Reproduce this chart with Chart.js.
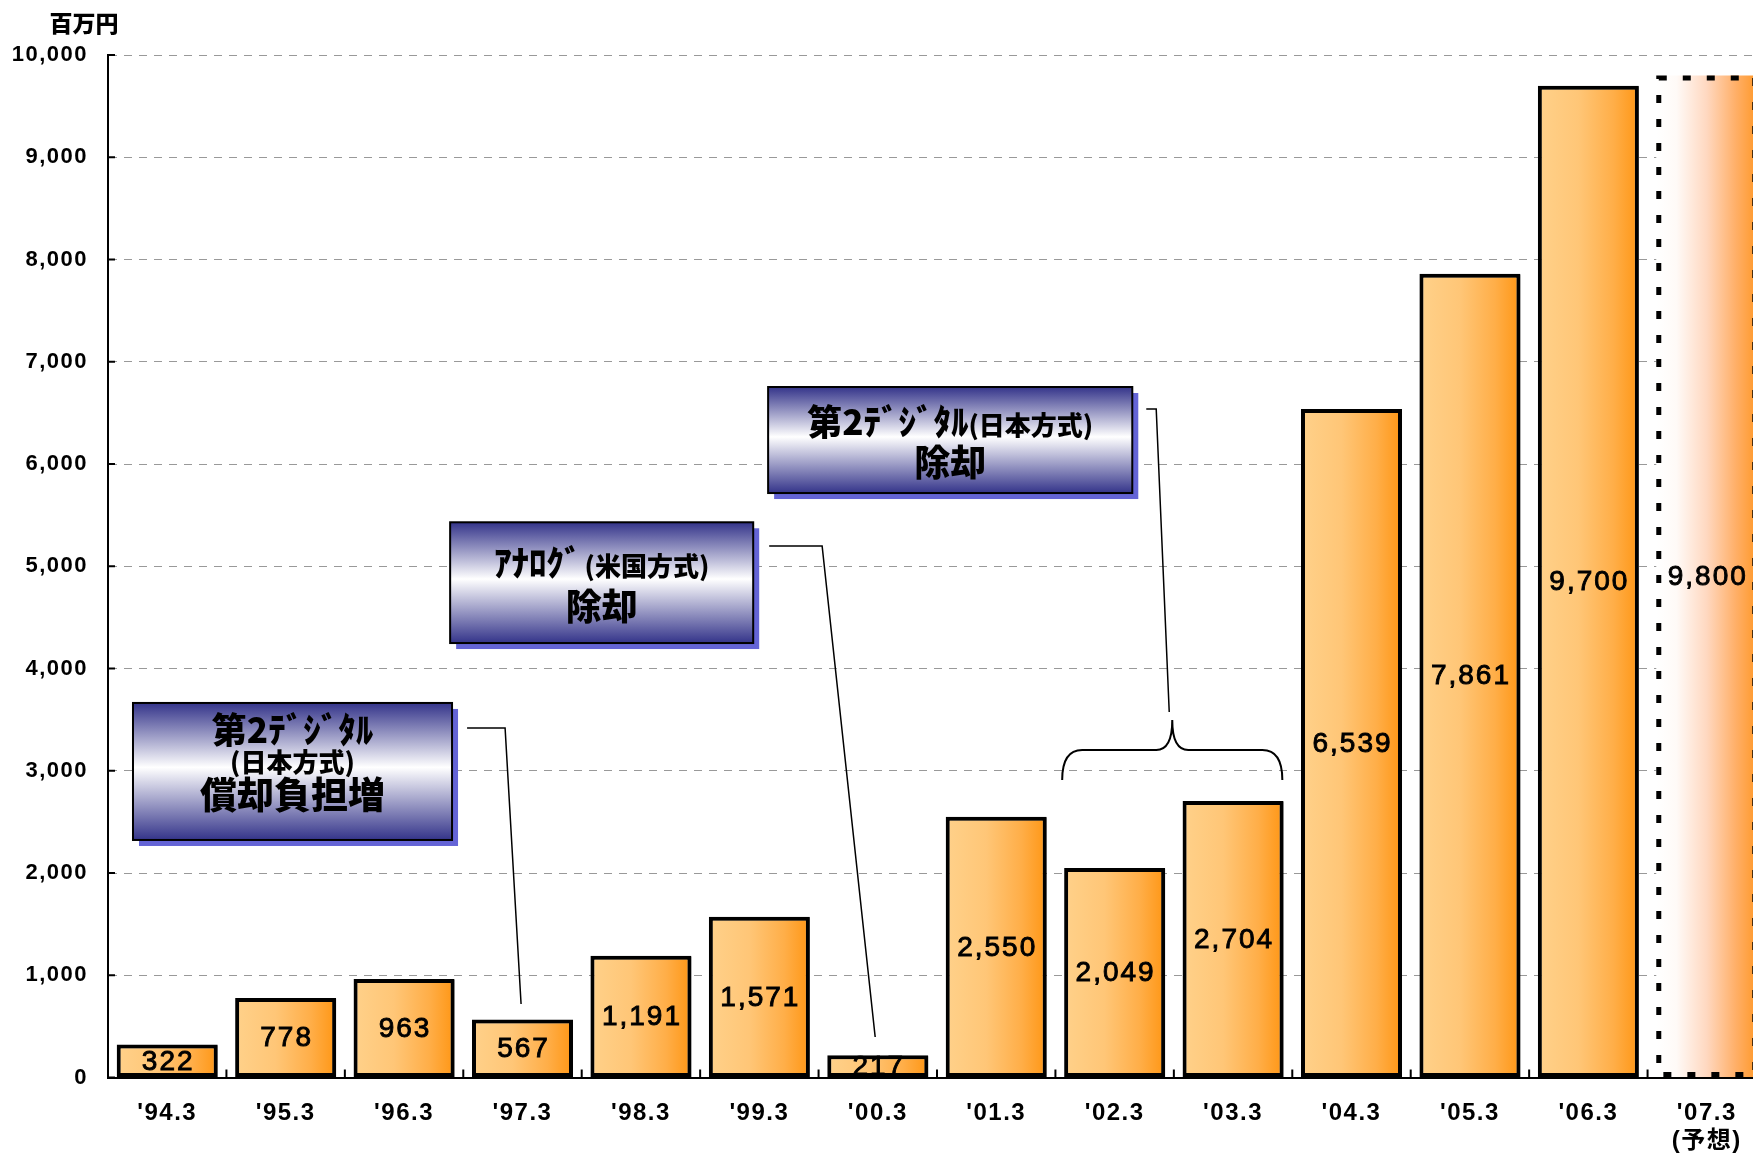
<!DOCTYPE html>
<html>
<head>
<meta charset="utf-8">
<script src="https://cdn.jsdelivr.net/npm/chart.js@4.4.1/dist/chart.umd.min.js"></script>
<style>
html, body { margin: 0; padding: 0; background: #fff; overflow: hidden; }
#wrap { width: 1766px; height: 1154px; }
</style>
</head>
<body>
<div id="wrap"><canvas id="chart" width="1766" height="1154"></canvas></div>
<script>
// chart values
const categories = ["'94.3", "'95.3", "'96.3", "'97.3", "'98.3", "'99.3", "'00.3",
                    "'01.3", "'02.3", "'03.3", "'04.3", "'05.3", "'06.3", ["'07.3", "(予想)"]];
const values = [322, 778, 963, 567, 1191, 1571, 217, 2550, 2049, 2704, 6539, 7861, 9700, 9800];
const forecastIndex = 13;
const yMax = 10000;
const yStep = 1000;
const unitLabel = '百万円';

// callout boxes, positioned in category units (x) and value units (y)
const notes = [
    {
        box: [-0.289, 3663, 2.405, 2323],
        lines: [[['第2ﾃﾞｼﾞﾀﾙ', 35]], [['(日本方式)', 26]], [['償却負担増', 37]]],
        lineY: [0.197, 0.438, 0.679],
        leader: [[2.532, 3418], [2.853, 3418], [2.988, 719]]
    },
    {
        box: [2.389, 5430, 4.948, 4249],
        lines: [[['ｱﾅﾛｸﾞ', 35], [' ', 14], ['(米国方式)', 26]], [['除却', 36]]],
        lineY: [0.339, 0.702],
        leader: [[5.083, 5198], [5.530, 5198], [5.978, 396]]
    },
    {
        box: [5.074, 6753, 8.149, 5716],
        lines: [[['第2ﾃﾞｼﾞﾀﾙ', 35], ['(日本方式)', 26]], [['除却', 36]]],
        lineY: [0.33, 0.717],
        leader: [[8.267, 6538], [8.351, 6538], [8.461, 3575]]
    }
];
// brace over '02.3 - '03.3
const brace = { from: 7.557, to: 9.416, base: 2910, arm: 3203, tip: 3496 };

const barPct = 0.853;
const latinFont = '"Liberation Sans", Arial, "Noto Sans CJK JP", sans-serif';
const cjkFont = '"Noto Sans CJK JP", "Liberation Sans", sans-serif';

function barFill(c) {
    const chart = c.chart;
    const xs = chart.scales.x;
    if (c.type !== 'data' || !xs || !chart.chartArea) return '#FFB24D';
    const step = xs.getPixelForValue(1) - xs.getPixelForValue(0);
    const cx = xs.getPixelForValue(c.dataIndex);
    const half = step * barPct / 2;
    if (!isFinite(cx) || !isFinite(half)) return '#FFB24D';
    const g = chart.ctx.createLinearGradient(cx - half, 0, cx + half, 0);
    if (c.dataIndex === forecastIndex) {
        g.addColorStop(0, '#ffffff');
        g.addColorStop(0.2, '#fffaf7');
        g.addColorStop(0.5, '#ffd8c0');
        g.addColorStop(0.78, '#ffb06a');
        g.addColorStop(1, '#ff9828');
    } else {
        g.addColorStop(0, '#FFD18A');
        g.addColorStop(0.4, '#FFC677');
        g.addColorStop(0.75, '#FFAE48');
        g.addColorStop(1, '#FF9614');
    }
    return g;
}

function drawRun(ctx, parts, cx, cy) {
    let total = 0;
    const widths = parts.map(p => {
        ctx.font = '900 ' + p[1] + 'px ' + cjkFont;
        const w = ctx.measureText(p[0]).width;
        total += w;
        return w;
    });
    const big = Math.max(...parts.map(p => p[1]));
    const baseY = cy + big * 0.36;
    let x = cx - total / 2;
    parts.forEach((p, i) => {
        ctx.font = '900 ' + p[1] + 'px ' + cjkFont;
        ctx.fillText(p[0], x, baseY);
        x += widths[i];
    });
}

const decorPlugin = {
    id: 'decor',
    beforeLayout(chart) { chart.ctx.letterSpacing = '1.5px'; },
    beforeDraw(chart) { chart.ctx.letterSpacing = '1.5px'; },
    beforeDatasetsDraw(chart) {
        const ctx = chart.ctx;
        ctx.save();
        ctx.shadowColor = 'rgba(0,0,0,0.35)';
        ctx.shadowOffsetX = 3;
        ctx.shadowOffsetY = 1;
        ctx.shadowBlur = 0;
    },
    afterDatasetsDraw(chart) {
        const ctx = chart.ctx;
        ctx.restore();
        const meta = chart.getDatasetMeta(0);

        // dashed outline for the forecast bar
        const f = meta.data[forecastIndex];
        if (f) {
            ctx.save();
            ctx.strokeStyle = '#000';
            ctx.lineWidth = 5;
            ctx.setLineDash([8, 16]);
            const l = f.x - f.width / 2 + 2.5, r = f.x + f.width / 2 - 2.5;
            ctx.strokeRect(l, f.y + 2.5, r - l, f.base - f.y - 5);
            ctx.restore();
        }

        // value labels in the middle of each bar
        ctx.save();
        ctx.letterSpacing = '2px';
        ctx.font = '28px ' + latinFont;
        ctx.fillStyle = '#000';
        ctx.strokeStyle = '#000';
        ctx.lineWidth = 0.9;
        ctx.textAlign = 'center';
        ctx.textBaseline = 'middle';
        meta.data.forEach((el, i) => {
            const t = values[i].toLocaleString('en-US');
            const x = el.x + 1, y = (el.y + el.base) / 2 + 1;
            ctx.fillText(t, x, y);
            ctx.strokeText(t, x, y);
        });
        ctx.restore();
    },
    afterDraw(chart) {
        const ctx = chart.ctx;
        const xs = chart.scales.x, ys = chart.scales.y;
        const area = chart.chartArea;
        const step = xs.getPixelForValue(1) - xs.getPixelForValue(0);
        const px = u => xs.getPixelForValue(0) + u * step;
        const py = v => ys.getPixelForValue(v);

        ctx.save();
        ctx.letterSpacing = '0px';

        // inward tick marks
        ctx.strokeStyle = '#000';
        ctx.lineWidth = 2;
        ctx.beginPath();
        for (let v = 0; v <= yMax; v += yStep) {
            ctx.moveTo(area.left, py(v));
            ctx.lineTo(area.left + 7, py(v));
        }
        for (let i = 1; i < categories.length; i++) {
            ctx.moveTo(px(i - 0.5), area.bottom);
            ctx.lineTo(px(i - 0.5), area.bottom - 8);
        }
        ctx.stroke();

        // unit label
        ctx.fillStyle = '#000';
        ctx.font = '900 23px ' + cjkFont;
        ctx.textAlign = 'center';
        ctx.textBaseline = 'middle';
        ctx.fillText(unitLabel, area.left - 24, area.top - 32);

        // leader lines
        ctx.lineWidth = 1.5;
        notes.forEach(n => {
            ctx.beginPath();
            n.leader.forEach((p, i) => {
                if (i === 0) ctx.moveTo(px(p[0]), py(p[1]));
                else ctx.lineTo(px(p[0]), py(p[1]));
            });
            ctx.stroke();
        });

        // brace
        const L = px(brace.from), R = px(brace.to), M = (L + R) / 2;
        const yb = py(brace.base), ya = py(brace.arm), yt = py(brace.tip);
        const rr = 20, rm = 16;
        ctx.lineWidth = 2;
        ctx.beginPath();
        ctx.moveTo(L, yb);
        ctx.quadraticCurveTo(L, ya, L + rr, ya);
        ctx.lineTo(M - rm, ya);
        ctx.quadraticCurveTo(M, ya, M, yt);
        ctx.quadraticCurveTo(M, ya, M + rm, ya);
        ctx.lineTo(R - rr, ya);
        ctx.quadraticCurveTo(R, ya, R, yb);
        ctx.stroke();

        // callout boxes
        notes.forEach(n => {
            const x1 = px(n.box[0]), x2 = px(n.box[2]);
            const y1 = py(n.box[1]), y2 = py(n.box[3]);
            const w = x2 - x1, h = y2 - y1;
            ctx.fillStyle = '#6464d6';
            ctx.fillRect(x1 + 6, y1 + 6, w, h);
            const g = ctx.createLinearGradient(0, y1, 0, y2);
            g.addColorStop(0, '#34348a');
            g.addColorStop(0.47, '#ffffff');
            g.addColorStop(1, '#34348a');
            ctx.fillStyle = g;
            ctx.fillRect(x1, y1, w, h);
            ctx.strokeStyle = '#000';
            ctx.lineWidth = 2;
            ctx.strokeRect(x1, y1, w, h);
            ctx.fillStyle = '#000';
            ctx.textAlign = 'left';
            ctx.textBaseline = 'alphabetic';
            n.lines.forEach((parts, i) => {
                drawRun(ctx, parts, x1 + w / 2, y1 + h * n.lineY[i]);
            });
        });
        ctx.restore();
    }
};

new Chart(document.getElementById('chart'), {
    type: 'bar',
    data: {
        labels: categories,
        datasets: [{
            data: values,
            backgroundColor: barFill,
            borderColor: '#000',
            borderWidth: c => c.dataIndex === forecastIndex ? 0 : 4,
            borderSkipped: false,
            barPercentage: barPct,
            categoryPercentage: 1
        }]
    },
    options: {
        responsive: false,
        animation: false,
        events: [],
        layout: { padding: { top: 55, left: 0, right: 0, bottom: 0 } },
        plugins: {
            legend: { display: false },
            tooltip: { enabled: false }
        },
        scales: {
            x: {
                afterFit: s => { s.height = 76.5; },
                grid: { display: false, drawTicks: false },
                border: { display: true, color: '#000', width: 2 },
                ticks: {
                    color: '#000',
                    padding: 21,
                    maxRotation: 0,
                    autoSkip: false,
                    font: { family: latinFont, size: 24, weight: 'bold' }
                }
            },
            y: {
                min: 0,
                max: yMax,
                afterFit: s => { s.width = 108; },
                grid: { color: '#999999', lineWidth: 1, drawTicks: false },
                border: { display: true, color: '#000', width: 2, dash: [8, 7] },
                ticks: {
                    stepSize: yStep,
                    color: '#000',
                    padding: 20,
                    font: { family: latinFont, size: 22, weight: 'bold' }
                }
            }
        }
    },
    plugins: [decorPlugin]
});
</script>
</body>
</html>
